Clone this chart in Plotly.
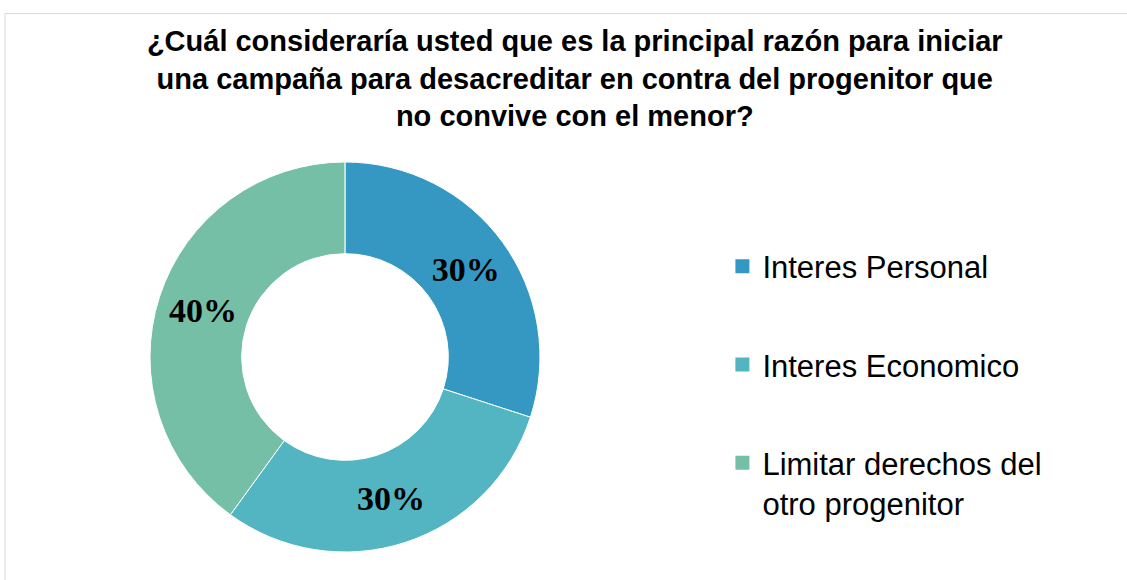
import plotly.graph_objects as go

# data
labels = ['Interes Personal', 'Interes Economico', 'Limitar derechos del<br>otro progenitor']
values = [30, 30, 40]
colors = ['#3598C3', '#52B5C1', '#74BFA6']

title = ('¿Cuál consideraría usted que es la principal razón para iniciar<br>'
         'una campaña para desacreditar en contra del progenitor que<br>'
         'no convive con el menor?')

fig = go.Figure()

fig.add_trace(go.Pie(
    labels=labels,
    values=values,
    hole=0.53,
    sort=False,
    direction='clockwise',
    rotation=0,
    marker=dict(colors=colors, line=dict(color='white', width=1)),
    textinfo='percent',
    texttemplate='%{percent:.0%}',
    textposition='inside',
    insidetextorientation='horizontal',
    textfont=dict(family='Liberation Serif', size=34, color='black', weight='bold'),
    domain=dict(x=[0.1322, 0.480], y=[0.0483, 0.7207]),
    showlegend=False,
    hoverinfo='label+percent',
))

# legend entries (separate groups so the spacing can match the original)
for name, col in zip(labels, colors):
    fig.add_trace(go.Scatter(
        x=[None], y=[None], mode='markers', name=name,
        marker=dict(symbol='square', size=14, color=col),
        legendgroup=name,
    ))

fig.update_layout(
    width=1127, height=580,
    paper_bgcolor='white', plot_bgcolor='white',
    margin=dict(l=0, r=0, t=0, b=0),
    title=dict(
        text=title, x=0.51, xanchor='center', y=0.912, yanchor='top',
        font=dict(family='Liberation Sans, Arial', size=29, color='black', weight='bold'),
    ),
    xaxis=dict(visible=False), yaxis=dict(visible=False),
    legend=dict(
        x=0.641, xanchor='left', y=0.587, yanchor='top',
        font=dict(family='Liberation Sans, Arial', size=31, color='black'),
        traceorder='grouped', tracegroupgap=55, valign='top',
        bgcolor='rgba(0,0,0,0)',
    ),
    shapes=[dict(type='rect', xref='paper', yref='paper',
                 x0=5 / 1127, x1=1.01, y0=-0.01, y1=1 - 13.5 / 580,
                 line=dict(color='#D9D9D9', width=1))],
)

# drop the default page margin so the figure sits at the window corner
fig.write_html('out.html', config={'displayModeBar': False},
               post_script="document.body.style.margin='0px';")
